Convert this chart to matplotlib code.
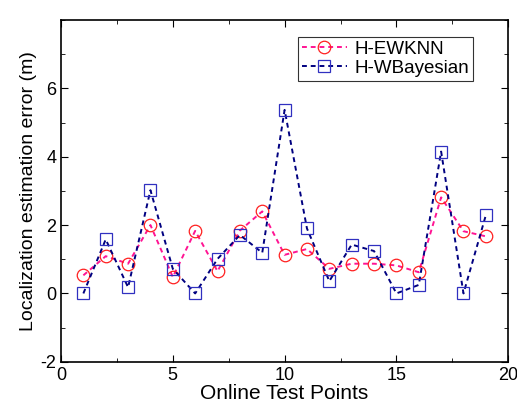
import matplotlib
matplotlib.use('Agg')
import matplotlib.pyplot as plt
from matplotlib.ticker import MultipleLocator

points = list(range(1, 20))
ewknn = [0.53, 1.09, 0.87, 2.0, 0.48, 1.83, 0.65, 1.84, 2.40, 1.13,
         1.30, 0.72, 0.87, 0.87, 0.82, 0.62, 2.81, 1.82, 1.67]
wbayes = [0.0, 1.58, 0.18, 3.02, 0.72, 0.0, 1.01, 1.71, 1.19, 5.37,
          1.90, 0.36, 1.43, 1.24, 0.0, 0.25, 4.15, 0.0, 2.29]

plt.rcParams['font.family'] = ['Liberation Sans', 'DejaVu Sans']
plt.rcParams['axes.unicode_minus'] = False

fig = plt.figure(figsize=(5.17, 4.07), dpi=100)
ax = fig.add_axes([0.118, 0.111, 0.865, 0.840])

ax.plot(points, ewknn, '--', color='#ff1493', lw=1.4, dashes=(2.5, 2),
        marker='o', ms=9, mfc='none', mec='#ff2020', mew=0.9, label='H-EWKNN')
ax.plot(points, wbayes, '--', color='#000080', lw=1.4, dashes=(2.5, 2),
        marker='s', ms=8, mfc='none', mec='#3030c0', mew=0.9, label='H-WBayesian')

ax.set_xlim(0, 20)
ax.set_ylim(-2, 8)
ax.xaxis.set_major_locator(MultipleLocator(5))
ax.xaxis.set_minor_locator(MultipleLocator(2.5))
ax.yaxis.set_minor_locator(MultipleLocator(1))
ax.set_yticks([-2, 0, 2, 4, 6])
ax.tick_params(which='both', direction='in', top=True, right=True, labelsize=13)
ax.tick_params(which='major', length=5)
ax.tick_params(which='minor', length=3)
for s in ax.spines.values():
    s.set_linewidth(1.2)

ax.set_xlabel('Online Test Points', fontsize=15, labelpad=0)
ax.set_ylabel('Localization estimation error (m)', fontsize=14, labelpad=2)

leg = ax.legend(loc='upper left', bbox_to_anchor=(0.53, 0.95), fontsize=13.5,
                frameon=True, fancybox=False, edgecolor='black', borderaxespad=0,
                handlelength=2.4, handletextpad=0.4, borderpad=0.2, labelspacing=0.1)
leg.get_frame().set_linewidth(0.8)

fig.savefig('out.png', dpi=100)
